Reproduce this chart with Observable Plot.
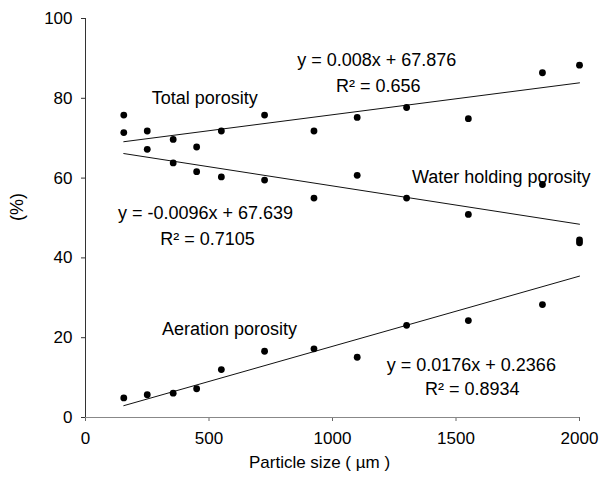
<!DOCTYPE html>
<html>
<head>
<meta charset="utf-8">
<script src="https://cdn.jsdelivr.net/npm/d3@7"></script>
<script src="https://cdn.jsdelivr.net/npm/@observablehq/plot@0.6"></script>
<style>
  html, body { margin: 0; padding: 0; background: #fff; }
  #chart svg { display: block; }
</style>
</head>
<body>
<div id="chart"></div>
<script>
// Particle size (µm) of each sieve fraction
const particleSize = [155, 250, 355, 450, 550, 725, 925, 1100, 1300, 1550, 1850, 2000];

// Porosity (%) measured for each fraction
const totalPorosity        = [75.8, 71.8, 69.7, 67.8, 71.8, 75.8, 71.8, 75.2, 77.7, 74.9, 86.4, 88.3];
const waterHoldingPorosity = [71.4, 67.2, 63.8, 61.6, 60.3, 59.5, 55.0, 60.7, 55.0, 50.9, 58.4, 44.5];
const aerationPorosity     = [4.9, 5.7, 6.1, 7.2, 12.0, 16.6, 17.2, 15.1, 23.1, 24.3, 28.3, 43.8];

// Linear fits (slope, intercept, R²)
const fitNames      = ["Total porosity", "Water holding porosity", "Aeration porosity"];
const fitSlopes     = [0.008, -0.0096, 0.0176];
const fitIntercepts = [67.876, 67.639, 0.2366];
const fitR2         = ["0.656", "0.7105", "0.8934"];

// Axis ticks
const xTicks = [0, 500, 1000, 1500, 2000];
const yTicks = [0, 20, 40, 60, 80, 100];

// Annotation texts with their anchor points (data units)
const labelTexts = [
  "Total porosity", "Water holding porosity", "Aeration porosity",
  ...fitSlopes.map((s, i) => `y = ${s}x + ${fitIntercepts[i]}`),
  ...fitR2.map(r => `R² = ${r}`)
];
const labelX = [483, 1683, 583, 1179, 486, 1562, 1185, 494, 1566];
const labelY = [80.0, 60.3, 22.0, 89.6, 51.3, 13.1, 83.1, 44.6, 7.2];

const seriesValues = [totalPorosity, waterHoldingPorosity, aerationPorosity];
const points = seriesValues.flatMap((vals, s) =>
  particleSize.map((x, i) => ({series: fitNames[s], x, y: vals[i]}))
);

const xMin = d3.min(particleSize), xMax = d3.max(particleSize);
const fitLines = fitNames.flatMap((name, i) =>
  [xMin, xMax].map(x => ({series: name, x, y: fitSlopes[i] * x + fitIntercepts[i]}))
);

const labels = labelTexts.map((text, i) => ({text, x: labelX[i], y: labelY[i]}));

const chart = Plot.plot({
  width: 600,
  height: 483,
  marginLeft: 85,
  marginRight: 21,
  marginTop: 18,
  marginBottom: 66,
  style: {fontFamily: "'Liberation Sans', Arial, sans-serif", fontSize: "17px", color: "#000", background: "#fff"},
  x: {domain: [0, 2000]},
  y: {domain: [0, 100]},
  marks: [
    Plot.axisX({ticks: xTicks, tickFormat: d => String(d), tickSize: 4, tickPadding: 10, label: null, fontSize: 17, stroke: "#666"}),
    Plot.axisY({ticks: yTicks, tickSize: 4, tickPadding: 9, label: null, fontSize: 17, stroke: "#333"}),
    Plot.ruleY([0], {stroke: "#888", strokeWidth: 1.2}),
    Plot.ruleX([0], {stroke: "#333", strokeWidth: 1}),
    Plot.line(fitLines, {x: "x", y: "y", z: "series", stroke: "#111", strokeWidth: 1}),
    Plot.dot(points, {x: "x", y: "y", r: 3.4, fill: "#000", stroke: null}),
    Plot.text(labels, {x: "x", y: "y", text: "text", fontSize: 18, fill: "#000", textAnchor: "middle"}),
    Plot.text(["Particle size ( µm )"], {frameAnchor: "bottom", textAnchor: "middle", lineAnchor: "middle", dx: -13, dy: 45, fontSize: 17, fill: "#000"}),
    Plot.text(["(%)"], {frameAnchor: "left", textAnchor: "middle", lineAnchor: "middle", rotate: -90, dx: -68, dy: -11, fontSize: 18, fill: "#000"})
  ]
});

document.getElementById("chart").append(chart);
</script>
</body>
</html>
